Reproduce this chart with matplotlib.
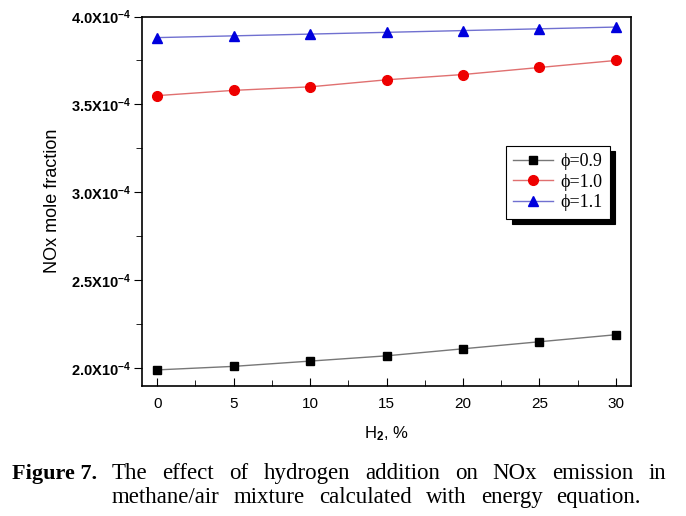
import matplotlib
matplotlib.use('Agg')
import matplotlib.pyplot as plt
from matplotlib.ticker import MultipleLocator, FixedLocator

# data
h2 = [0, 5, 10, 15, 20, 25, 30]
nox_09 = [1.99, 2.01, 2.04, 2.07, 2.11, 2.15, 2.19]   # x1e-4
nox_10 = [3.55, 3.58, 3.60, 3.64, 3.67, 3.71, 3.75]
nox_11 = [3.88, 3.89, 3.90, 3.91, 3.92, 3.93, 3.94]
labels = ['\u03d5=0.9', '\u03d5=1.0', '\u03d5=1.1']
yticks = [2.0, 2.5, 3.0, 3.5, 4.0]
ytick_labels = ['2.0X10$^{-4}$', '2.5X10$^{-4}$', '3.0X10$^{-4}$', '3.5X10$^{-4}$', '4.0X10$^{-4}$']
caption = ['The effect of hydrogen addition on NOx emission in',
           'methane/air mixture calculated with energy equation.']

plt.rcParams['font.family'] = ['Liberation Sans', 'DejaVu Sans']
plt.rcParams['mathtext.fontset'] = 'custom'
plt.rcParams['mathtext.rm'] = 'Liberation Sans:bold'
plt.rcParams['mathtext.it'] = 'Liberation Sans:bold'

fig = plt.figure(figsize=(6.86, 5.16), dpi=100)
ax = fig.add_axes([0.207, 0.2525, 0.713, 0.7155])

ax.plot(h2, nox_09, color='#777777', lw=1, marker='s', ms=6,
        mfc='black', mec='black', label=labels[0])
ax.plot(h2, nox_10, color='#e07070', lw=1, marker='o', ms=7,
        mfc='#ee0000', mec='#ee0000', label=labels[1])
ax.plot(h2, nox_11, color='#7070d0', lw=1, marker='^', ms=7,
        mfc='#0000dd', mec='#0000dd', label=labels[2])

ax.set_xlim(-1, 31)
ax.set_ylim(1.9, 4.0)
ax.xaxis.set_major_locator(MultipleLocator(5))
ax.xaxis.set_minor_locator(MultipleLocator(2.5))
ax.yaxis.set_major_locator(FixedLocator(yticks))
ax.yaxis.set_minor_locator(MultipleLocator(0.25))
ax.set_yticklabels(ytick_labels, fontsize=10.5, fontweight='bold')
ax.tick_params(axis='x', which='both', direction='in', labelsize=11, pad=8)
ax.tick_params(axis='x', which='major', length=6)
ax.tick_params(axis='x', which='minor', length=4)
ax.tick_params(axis='y', which='both', direction='out', pad=2)
ax.tick_params(axis='y', which='major', length=6)
ax.tick_params(axis='y', which='minor', length=4)
for s in ax.spines.values():
    s.set_linewidth(1.2)

ax.set_xlabel('H$_2$, %', fontsize=12, labelpad=10)
ax.set_ylabel('NOx mole fraction', fontsize=13, labelpad=7)

leg = ax.legend(loc='upper left', bbox_to_anchor=(0.726, 0.674),
                prop={'family': ['Liberation Serif', 'DejaVu Serif'], 'size': 13},
                fancybox=False, edgecolor='black', handlelength=2.2,
                labelspacing=0.2, borderpad=0.4, handletextpad=0.4,
                shadow={'color': 'black', 'alpha': 1, 'ox': 4, 'oy': -4})
leg.get_frame().set_linewidth(0.8)

# caption, justified between x0 and the line's right edge (pixels)
serif = ['Liberation Serif', 'DejaVu Serif']
W, H = 686, 516
fig.text(12 / W, 1 - 479 / H, 'Figure 7.', family=serif, fontsize=16,
         fontweight='bold', va='baseline')
x0 = 112
renderer = fig.canvas.get_renderer()
for line, base, right in zip(caption, [479, 503], [666, 641]):
    words = line.split()
    texts = [fig.text(0, 1 - base / H, w, family=serif, fontsize=16.5, va='baseline')
             for w in words]
    widths = [t.get_window_extent(renderer).width for t in texts]
    gap = (right - x0 - sum(widths)) / (len(words) - 1)
    x = x0
    for t, w in zip(texts, widths):
        t.set_x(x / W)
        x += w + gap

fig.savefig('out.png', dpi=100, facecolor='white')
